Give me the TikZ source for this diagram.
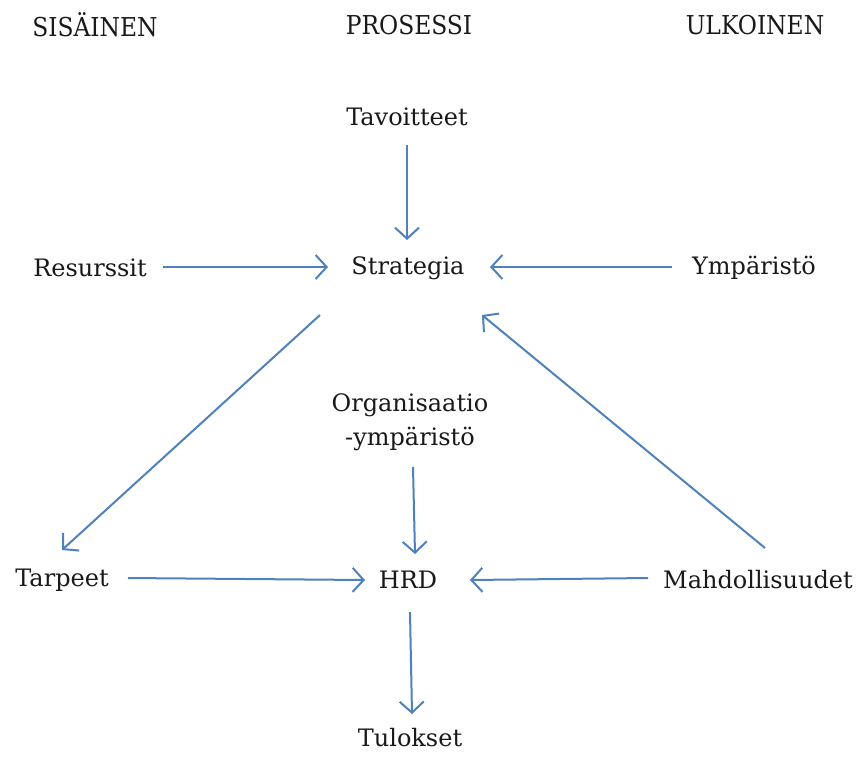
\documentclass[tikz,border=0pt]{standalone}
\usepackage{fontspec}
\setmainfont{DejaVu Serif}
\newfontfamily\condfont{DejaVu Serif Condensed}
\usetikzlibrary{arrows.meta}
\definecolor{arrowblue}{RGB}{79,129,189}
\begin{document}
\begin{tikzpicture}[x=1pt,y=-1pt,
  lbl/.style={inner sep=0pt,font=\fontsize{24}{34}\selectfont,text=black!90},
  hdr/.style={inner sep=0pt,font=\condfont\fontsize{26}{30}\selectfont,text=black!90},
  conn/.style={draw=arrowblue,line width=2pt,-{Straight Barb[length=11pt,width=24pt,line width=2pt]}}]
\useasboundingbox (0,0) rectangle (859,756);
\fill[white] (0,0) rectangle (859,756);
% headers
\node[hdr] (h1) at (95,25) {SISÄINEN};
\node[hdr] (h2) at (409,25) {PROSESSI};
\node[hdr] (h3) at (755,25) {ULKOINEN};
% nodes
\node[lbl] (tav) at (407,117) {Tavoitteet};
\node[lbl] (str) at (408,268) {Strategia};
\node[lbl] (res) at (90,268) {Resurssit};
\node[lbl] (ymp) at (754,268) {Ympäristö};
\node[lbl,align=center] (org) at (410,422) {Organisaatio\\-ympäristö};
\node[lbl] (tar) at (62,580) {Tarpeet};
\node[lbl] (hrd) at (408,580) {HRD};
\node[lbl] (mah) at (758,580) {Mahdollisuudet};
\node[lbl] (tul) at (410,738) {Tulokset};
% anchor points for connectors
\coordinate (a1) at (407,145); \coordinate (b1) at (407,240);
\coordinate (a2) at (163,267); \coordinate (b2) at (328,267);
\coordinate (a3) at (672,267); \coordinate (b3) at (490,267);
\coordinate (a4) at (320,315); \coordinate (b4) at (62,550);
\coordinate (a5) at (765,548); \coordinate (b5) at (482,315);
\coordinate (a6) at (413,467); \coordinate (b6) at (415,554);
\coordinate (a7) at (128,578); \coordinate (b7) at (365,580);
\coordinate (a8) at (648,578); \coordinate (b8) at (470,580);
\coordinate (a9) at (410,612); \coordinate (b9) at (412,714);
\draw[conn] (a1) -- (b1);
\draw[conn] (a2) -- (b2);
\draw[conn] (a3) -- (b3);
\draw[conn] (a4) -- (b4);
\draw[conn] (a5) -- (b5);
\draw[conn] (a6) -- (b6);
\draw[conn] (a7) -- (b7);
\draw[conn] (a8) -- (b8);
\draw[conn] (a9) -- (b9);
\end{tikzpicture}
\end{document}
